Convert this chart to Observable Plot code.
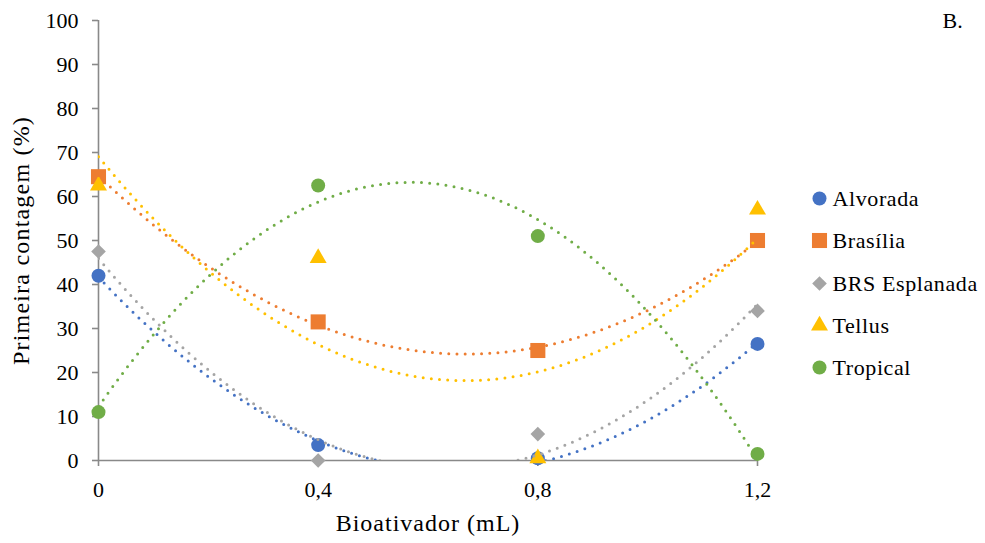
<!DOCTYPE html>
<html>
<head>
<meta charset="utf-8">
<script src="https://cdn.jsdelivr.net/npm/d3@7"></script>
<script src="https://cdn.jsdelivr.net/npm/@observablehq/plot@0.6"></script>
<style>
  html, body { margin: 0; padding: 0; background: white; }
  #chart { width: 985px; height: 543px; }
  #chart svg, #chart svg text { font-family: "Liberation Serif", "Times New Roman", Times, serif !important; }
</style>
</head>
<body>
<div id="chart"></div>
<script>
// ---- data ----
const doses = [0, 0.4, 0.8, 1.2];
const xTicks = [0, 0.4, 0.8, 1.2];
const yTicks = [0, 10, 20, 30, 40, 50, 60, 70, 80, 90, 100];
const seriesNames = ["Alvorada", "Brasília", "BRS Esplanada", "Tellus", "Tropical"];
const alvorada = [42, 3.5, 0.5, 26.5];
const brasilia = [64.5, 31.5, 25, 50];
const esplanada = [47.5, 0, 6, 34];
const tellus = [62.5, 46, 0.5, 57];
const tropical = [11, 62.5, 51, 1.5];
const colors = ["#4472C4", "#ED7D31", "#A5A5A5", "#FFC000", "#70AD47"];
const symbols = ["circle", "square", "diamond2", "triangle", "circle"];
const radii = [7, 8.5, 6.6, 6.3, 7];
const xLabel = "Bioativador (mL)";
const yLabel = "Primeira contagem (%)";
const panelLabel = "B.";

const values = [alvorada, brasilia, esplanada, tellus, tropical];

// points table
const points = [];
values.forEach((vals, i) => vals.forEach((v, j) => points.push({series: seriesNames[i], x: doses[j], y: v, i})));

// quadratic least-squares trendline (as Excel polynomial order 2)
function quadFit(xs, ys) {
  let S = [0,0,0,0,0], T = [0,0,0];
  xs.forEach((x, k) => {
    for (let p = 0; p < 5; p++) S[p] += Math.pow(x, p);
    for (let p = 0; p < 3; p++) T[p] += Math.pow(x, p) * ys[k];
  });
  const A = [[S[0],S[1],S[2],T[0]],[S[1],S[2],S[3],T[1]],[S[2],S[3],S[4],T[2]]];
  for (let c = 0; c < 3; c++) {
    for (let r = c + 1; r < 3; r++) {
      const f = A[r][c] / A[c][c];
      for (let k = c; k < 4; k++) A[r][k] -= f * A[c][k];
    }
  }
  const coef = [0,0,0];
  for (let r = 2; r >= 0; r--) {
    let s = A[r][3];
    for (let k = r + 1; k < 3; k++) s -= A[r][k] * coef[k];
    coef[r] = s / A[r][r];
  }
  return coef;
}
const trends = [];
values.forEach((vals, i) => {
  const [a, b, c] = quadFit(doses, vals);
  const n = 240;
  for (let k = 0; k <= n; k++) {
    const x = 1.2 * k / n;
    trends.push({series: seriesNames[i], x, y: a + b * x + c * x * x, i});
  }
});

const axisColor = "#898989";
const font = "'Liberation Serif', 'Times New Roman', Times, serif";

const marks = [
  Plot.ruleY([0], {stroke: axisColor, strokeWidth: 1.6}),
  Plot.ruleX([0], {stroke: axisColor, strokeWidth: 1.6}),
  Plot.axisY({ticks: yTicks, tickSize: 6, tickPadding: 14, stroke: axisColor, strokeWidth: 1.6,
    fill: "black", fontSize: 22, fontFamily: font, label: null}),
  Plot.axisX({ticks: xTicks, tickSize: 6, tickPadding: 15, stroke: axisColor, strokeWidth: 1.6,
    fill: "black", fontSize: 22, fontFamily: font, label: null, tickFormat: d => String(d).replace(".", ",")}),
];

values.forEach((_, i) => {
  marks.push(Plot.dot(points.filter(d => d.i === i), {
    x: "x", y: "y", symbol: symbols[i], r: radii[i], fill: colors[i], stroke: "none"
  }));
});
values.forEach((_, i) => {
  marks.push(Plot.line(trends.filter(d => d.i === i), {
    x: "x", y: "y", stroke: colors[i], strokeWidth: 3, strokeDasharray: "0 8.2",
    strokeLinecap: "round", clip: true
  }));
});

// legend
const legendDy = [178, 220, 263, 305, 347];
seriesNames.forEach((name, i) => {
  marks.push(Plot.dot([0], {frameAnchor: "top-left", dx: 721, dy: legendDy[i],
    symbol: symbols[i], r: radii[i], fill: colors[i], stroke: "none"}));
  marks.push(Plot.text([name], {frameAnchor: "top-left", dx: 734, dy: legendDy[i],
    textAnchor: "start", lineAnchor: "middle", fontSize: 22, fontFamily: font, fill: "black"}));
});

// titles
marks.push(Plot.text([xLabel], {frameAnchor: "bottom", dy: 63, textAnchor: "middle", lineAnchor: "middle", fontSize: 24, fontFamily: font, fill: "black"}));
marks.push(Plot.text([yLabel], {frameAnchor: "left", dx: -77, rotate: -90, textAnchor: "middle", lineAnchor: "middle", fontSize: 24, fontFamily: font, fill: "black"}));
marks.push(Plot.text([panelLabel], {frameAnchor: "top-right", dx: 185, dy: 0, textAnchor: "start", lineAnchor: "middle", fontSize: 22, fontFamily: font, fill: "black"}));

const chart = Plot.plot({
  width: 985, height: 543,
  marginLeft: 98, marginRight: 228, marginTop: 20, marginBottom: 83,
  x: {domain: [0, 1.2], label: null},
  y: {domain: [0, 100], label: null},
  style: {fontFamily: font, fontSize: "20px", background: "white", color: "black"},
  marks
});
document.getElementById("chart").appendChild(chart);

// slight letter spacing to match the reference's wider text
const spacing = new Map([[xLabel, "1px"], [yLabel, "1.2px"]]);
seriesNames.forEach(n => spacing.set(n, "0.6px"));
d3.select(chart).selectAll("text").each(function() {
  const t = this.textContent;
  if (spacing.has(t)) this.style.letterSpacing = spacing.get(t);
});
</script>
</body>
</html>
